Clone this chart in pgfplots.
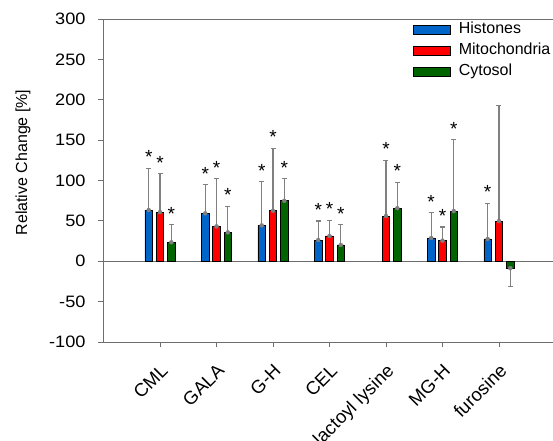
\documentclass[border=0pt]{standalone}
\usepackage{fontspec}
\setmainfont{Liberation Sans}
\newfontfamily\tickfont[FakeStretch=1.1]{Liberation Sans}
\usepackage{pgfplots}
\pgfplotsset{compat=1.18}
\definecolor{cblue}{RGB}{0,100,200}
\definecolor{cred}{RGB}{255,0,0}
\definecolor{cgreen}{RGB}{0,100,0}
\definecolor{axgray}{RGB}{110,110,110}
\definecolor{errgray}{RGB}{128,128,128}
\pgfplotsset{
  errplot/.style={only marks, mark=none, color=errgray, forget plot,
    error bars/.cd, y dir=#1, y explicit,
    error bar style={draw=errgray, line width=1.1bp},
    error mark options={draw=errgray, line width=1.1bp, mark size=2.5bp, rotate=90}},
  barplot/.style={ybar, bar width=7.5bp, fill=#1, draw=black, line width=0.8bp},
}
\begin{document}
\begin{tikzpicture}
\begin{axis}[
  at={(0,0)}, anchor=south west,
  scale only axis, width=450bp, height=323bp,
  xmin=-1.009, xmax=6.956, ymin=-100, ymax=300,
  axis x line=box, axis y line=left,
  axis line style={axgray, line width=0.9bp},
  y axis line style={-},
  xtick={0,1,2,3,4,5,6},
  xticklabels={CML,GALA,G-H,CEL,lactoyl lysine,MG-H,furosine},
  ytick={-100,-50,0,50,100,150,200,250,300},
  xtick pos=left, ytick pos=left,
  tick align=outside, major tick length=5bp,
  tick style={axgray, line width=0.9bp},
  /pgf/number format/assume math mode=true,
  yticklabel style={font=\tickfont\fontsize{16.5bp}{19bp}\selectfont, xshift=-9bp},
  xticklabel style={font=\fontsize{18.5bp}{21bp}\selectfont, xshift=9bp, yshift=-25bp, rotate=45, anchor=base east, inner sep=0pt},
  ylabel={Relative Change [\%]},
  every axis y label/.style={at={(axis description cs:-0.1778,0.5557)}, rotate=90, anchor=center, font=\fontsize{16bp}{19bp}\selectfont},
  legend style={at={(axis description cs:0.6889,0.992)}, anchor=north west, draw=none, fill=none,
    inner sep=0pt, outer sep=0pt, row sep=5.8bp,
    font=\fontsize{16bp}{19bp}\selectfont,
    nodes={inner sep=0pt, text height=12bp, text depth=3bp}},
  legend cell align=left,
  legend image code/.code={\draw[#1, line width=0.8bp] (0bp,-5.3bp) rectangle (37bp,3.7bp); \path (45bp,0bp);},
]
\draw[axgray, line width=0.9bp] (axis cs:-1.009,0) -- (axis cs:6.956,0);
% Histones
\addplot[barplot=cblue, bar shift=-11.3bp]
  coordinates {(0,63.4) (1,59.3) (2,44.4) (3,26.3) (5,28.8) (6,27.6)};
\addlegendentry{Histones}
% Mitochondria
\addplot[barplot=cred, bar shift=0bp]
  coordinates {(0,60.9) (1,43.2) (2,62.6) (3,31.3) (4,56.0) (5,25.5) (6,49.8)};
\addlegendentry{Mitochondria}
% Cytosol
\addplot[barplot=cgreen, bar shift=11.3bp]
  coordinates {(0,23.5) (1,35.8) (2,74.9) (3,20.2) (4,65.8) (5,62.1) (6,-8.6)};
\addlegendentry{Cytosol}
% error bars (one-sided)
\addplot[errplot=plus] coordinates {(-0.2,63.4) +- (0,51.8) (0.8,59.3) +- (0,35.8) (1.8,44.4) +- (0,54.0)
  (2.8,26.3) +- (0,23.5) (4.8,28.8) +- (0,31.2) (5.8,27.6) +- (0,44.4)};
\addplot[errplot=plus] coordinates {(0,60.9) +- (0,47.7) (1,43.2) +- (0,58.8) (2,62.6) +- (0,77.3)
  (3,31.3) +- (0,19.7) (4,56.0) +- (0,69.1) (5,25.5) +- (0,16.9) (6,49.8) +- (0,142.8)};
\addplot[errplot=plus] coordinates {(0.2,23.5) +- (0,21.8) (1.2,35.8) +- (0,32.5) (2.2,74.9) +- (0,27.1)
  (3.2,20.2) +- (0,25.1) (4.2,65.8) +- (0,32.1) (5.2,62.1) +- (0,88.5)};
\addplot[errplot=minus] coordinates {(6.2,-8.6) +- (0,22.3)};
% significance stars
\addplot[draw=none, mark=none, forget plot, nodes near coords={*},
  every node near coord/.style={anchor=center, inner sep=0pt, font=\fontsize{19bp}{21bp}\selectfont}]
  coordinates {(-0.2,128.7) (0,122.1) (0.2,58.8)
               (0.8,108.6) (1,115.5) (1.2,81.8)
               (1.8,111.9) (2,153.4) (2.2,115.5)
               (2.8,63.3) (3,64.5) (3.2,58.8)
               (4,138.6) (4.2,111.4)
               (4.8,73.5) (5,55.9) (5.2,164.1)
               (5.8,85.5)};
\end{axis}
\pgfresetboundingbox
\path[use as bounding box] (-103bp,-99bp) rectangle (450bp,342bp);
\end{tikzpicture}
\end{document}
